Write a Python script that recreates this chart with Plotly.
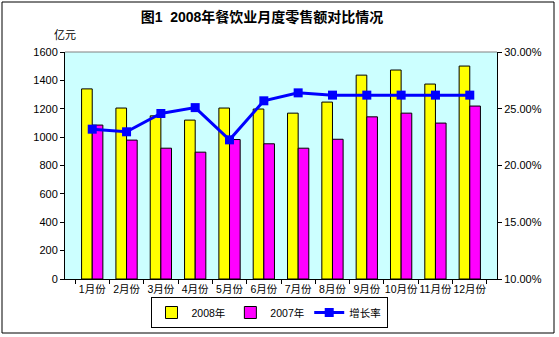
import plotly.graph_objects as go

months = ["1月份", "2月份", "3月份", "4月份", "5月份", "6月份",
          "7月份", "8月份", "9月份", "10月份", "11月份", "12月份"]
sales_2008 = [1340, 1205, 1150, 1120, 1205, 1198, 1169, 1247, 1437, 1473, 1374, 1501]
sales_2007 = [1085, 979, 922, 894, 983, 953, 922, 985, 1143, 1169, 1099, 1219]
growth = [0.232, 0.2297, 0.2458, 0.251, 0.2226, 0.257, 0.264, 0.262, 0.262, 0.262, 0.262, 0.262]

FONT = "Liberation Sans, Noto Sans CJK SC, sans-serif"

fig = go.Figure()
fig.add_trace(go.Bar(x=months, y=sales_2008, name="2008年",
                     marker=dict(color="#FFFF00", line=dict(color="black", width=1))))
fig.add_trace(go.Bar(x=months, y=sales_2007, name="2007年",
                     marker=dict(color="#FF00FF", line=dict(color="black", width=1))))
fig.add_trace(go.Scatter(x=months, y=growth, name="增长率", yaxis="y2",
                         mode="lines+markers",
                         line=dict(color="#0000FF", width=3),
                         marker=dict(symbol="square", size=9, color="#0000FF")))

W, H = 559, 337
L, R, T, B = 65, 62, 52, 58
pw, ph = W - L - R, H - T - B

def px(x):
    return (x - L) / pw

def py(y):
    return (H - B - y) / ph

fig.update_layout(
    width=W, height=H,
    margin=dict(l=L, r=R, t=T, b=B, autoexpand=False),
    paper_bgcolor="white",
    plot_bgcolor="#CCFFFF",
    font=dict(family=FONT, size=11, color="black"),
    barmode="group",
    bargap=0.38,
    bargroupgap=0,
    title=dict(text="<b>图1  2008年餐饮业月度零售额对比情况</b>",
               x=262 / W, xanchor="center", y=1 - 17 / H, yanchor="middle",
               font=dict(size=14, family=FONT)),
    xaxis=dict(showline=True, linecolor="black", linewidth=1, mirror=False,
               ticks="outside", ticklen=4, tickcolor="black", tickson="boundaries",
               showgrid=False, tickangle=0, automargin=False, tickfont=dict(size=10.5)),
    yaxis=dict(range=[0, 1600], dtick=200, showline=True, linecolor="black",
               linewidth=1, ticks="outside", ticklen=4, tickcolor="black",
               showgrid=False, zeroline=False, automargin=False, tickfont=dict(size=11)),
    yaxis2=dict(range=[0.10, 0.30], dtick=0.05, tickformat=".2%", overlaying="y",
                side="right", showline=True, linecolor="black", linewidth=1,
                ticks="outside", ticklen=4, tickcolor="black", showgrid=False,
                zeroline=False, automargin=False, tickfont=dict(size=11)),
    legend=dict(orientation="h", x=px(269), y=py(328), xanchor="center", yanchor="bottom",
                bordercolor="black", borderwidth=1, bgcolor="white",
                font=dict(size=10.5), itemwidth=30, tracegroupgap=0),
    showlegend=True,
    annotations=[dict(text="亿元", xref="paper", yref="paper", x=px(65), y=py(35),
                      xanchor="center", yanchor="middle", showarrow=False,
                      font=dict(size=11))],
    shapes=[
        dict(type="rect", xref="paper", yref="paper",
             x0=px(2), x1=px(554), y0=py(333), y1=py(2),
             line=dict(color="black", width=1), fillcolor="rgba(0,0,0,0)", layer="below"),
        dict(type="line", xref="paper", yref="paper", x0=0, x1=1, y0=1, y1=1,
             line=dict(color="#808080", width=1)),
    ],
)

fig.write_html("out.html")
